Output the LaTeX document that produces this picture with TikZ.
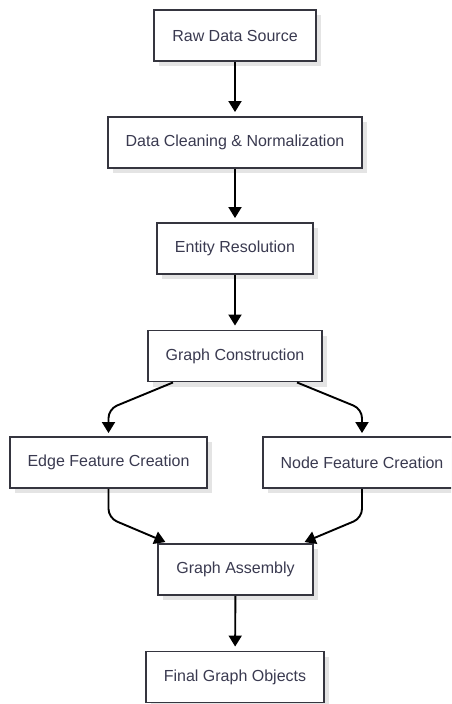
\documentclass[tikz,border=0pt]{standalone}
\usepackage{fontspec}
\setmainfont{Liberation Sans}
\usetikzlibrary{arrows.meta,shadows,calc}
\definecolor{txt}{HTML}{3A3A50}
\definecolor{brd}{HTML}{35353F}
\definecolor{shd}{HTML}{E4E4E4}
\tikzset{
  box/.style={draw=brd, line width=1.9pt, fill=white, text=txt,
    font=\fontsize{16pt}{19pt}\selectfont, minimum height=51pt, inner xsep=18pt,
    drop shadow={shadow xshift=5pt, shadow yshift=-5pt, fill=shd, opacity=1}},
  arr/.style={draw=black, line width=1.9pt, -{Triangle[length=11pt,width=13pt]}},
  arrc/.style={arr, rounded corners=9pt}
}
\begin{document}
\begin{tikzpicture}[x=1pt,y=-1pt]
\useasboundingbox (0,0) rectangle (451,704);
\clip (0,0) rectangle (451,704);
\node[box] (raw) at (235,35.5) {Raw Data Source};
\node[box] (dc) at (235,142.5) {Data Cleaning \& Normalization};
\node[box] (er) at (235,248.5) {Entity Resolution};
\node[box] (gc) at (235,356) {Graph Construction};
\node[box, minimum width=197pt] (ef) at (108.5,462.5) {Edge Feature Creation};
\node[box, minimum width=198pt] (nf) at (362,462.5) {Node Feature Creation};
\node[box] (ga) at (235.5,569.5) {Graph Assembly};
\node[box] (fg) at (235,677) {Final Graph Objects};

\draw[arr, shorten >=4pt] (raw) -- (dc);
\draw[arr, shorten >=4pt] (dc) -- (er);
\draw[arr, shorten >=4pt] (er) -- (gc);
\draw[arr, shorten >=4pt] (ga) -- (fg);

\coordinate (gcl) at ($(gc.south)+(-62,0)$);
\coordinate (gcr) at ($(gc.south)+(62,0)$);
\draw[arrc] (gcl) -- ($(ef.north)+(0,-27)$) -- ([yshift=3pt]ef.north);
\draw[arrc] (gcr) -- ($(nf.north)+(0,-27)$) -- ([yshift=3pt]nf.north);

\coordinate (gal) at ($(ga.north west)+(8,-1)$);
\coordinate (gar) at ($(ga.north east)+(-9,-1)$);
\draw[arrc] (ef.south) -- ($(ef.south)+(0,29)$) -- (gal);
\draw[arrc] (nf.south) -- ($(nf.south)+(0,29)$) -- (gar);
\end{tikzpicture}
\end{document}
